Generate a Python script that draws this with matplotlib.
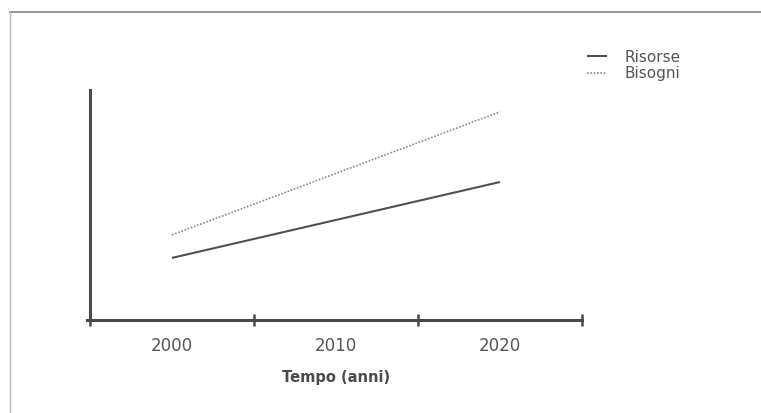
import matplotlib
matplotlib.use("Agg")
import matplotlib.pyplot as plt
from matplotlib.lines import Line2D

years = [2000, 2020]
risorse = [27, 60]
bisogni = [37, 90.5]
tick_years = [2000, 2010, 2020]
tick_labels = ["2000", "2010", "2020"]
minor_years = [1995, 2005, 2015, 2025]

W, H = 761, 413
fig = plt.figure(figsize=(W / 100, H / 100), dpi=100)
fig.patch.set_facecolor("white")

# outer frame (top and left)
fig.add_artist(Line2D([10 / W, 1.0], [1 - 12 / H, 1 - 12 / H], transform=fig.transFigure,
                      color="#8a8a8a", lw=1.3))
fig.add_artist(Line2D([10 / W, 10 / W], [1 - 12 / H, 0.0], transform=fig.transFigure,
                      color="#b8b8b8", lw=1.0))

ax = fig.add_axes([90 / W, (H - 320) / H, (582 - 90) / W, (320 - 90) / H])
ax.set_xlim(1995, 2025)
ax.set_ylim(0, 100)

ax.plot(years, risorse, color="#505050", lw=1.5, solid_capstyle="butt", label="Risorse")
ax.plot(years, bisogni, color="#8a8a8a", lw=1.2, linestyle=(0, (1, 1)), label="Bisogni")

for s in ["top", "right"]:
    ax.spines[s].set_visible(False)
for s in ["left", "bottom"]:
    ax.spines[s].set_color("#4a4a4a")
    ax.spines[s].set_linewidth(2.2)
ax.spines["bottom"].set_bounds(1994.8, 2025)

ax.set_yticks([])
ax.set_xticks(tick_years)
ax.set_xticklabels(tick_labels)
ax.set_xticks(minor_years, minor=True)
ax.tick_params(axis="x", which="major", length=0, pad=12, labelsize=12, labelcolor="#555555")
ax.tick_params(axis="x", which="minor", direction="inout", length=8, width=1.8, color="#4a4a4a")

ax.set_xlabel("Tempo (anni)", fontsize=10.5, fontweight="bold", color="#4a4a4a", labelpad=11)

leg = fig.legend(loc="upper left", bbox_to_anchor=(579 / W, 1 - 42 / H), frameon=False,
                 fontsize=11, handlelength=1.3, handletextpad=1.2, borderpad=0,
                 labelspacing=0.1, labelcolor="#555555")

fig.savefig("out.png", dpi=100, facecolor="white")
